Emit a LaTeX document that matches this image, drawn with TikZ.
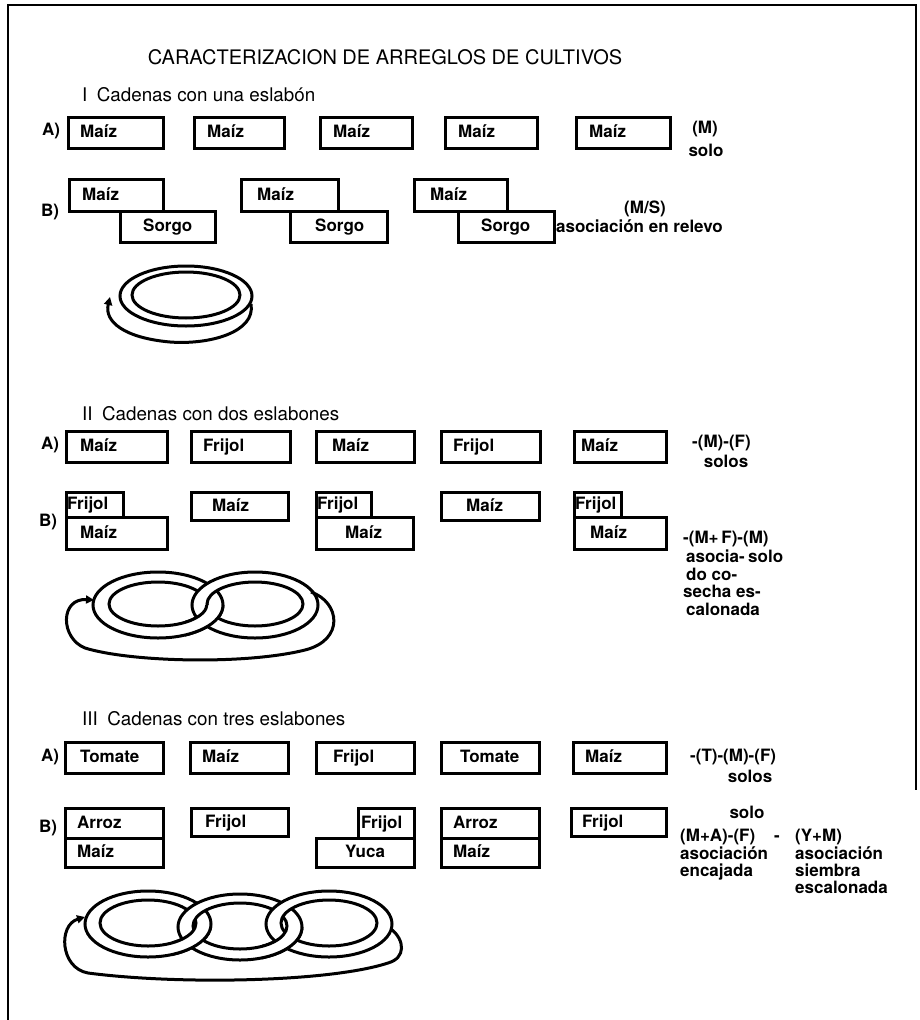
\documentclass[tikz,border=0pt]{standalone}
\usepackage{fontspec}
\setmainfont{TeX Gyre Heros}
\usetikzlibrary{arrows.meta}
\newcommand\chainring[7]{%
  \filldraw[ringline, fill=white, even odd rule] (#1,#2) ellipse [x radius=#3, y radius=#4] (#1,#2+#7) ellipse [x radius=#5, y radius=#6];}
\begin{document}
\begin{tikzpicture}[x=1pt,y=-1pt,
  box/.style={draw, line width=3pt, fill=white, anchor=north west, minimum height=31pt, inner sep=0pt},
  lbl/.style={font=\fontsize{17}{20}\selectfont\bfseries, inner sep=0pt, text height=12.5pt, text depth=3.5pt},
  ann/.style={font=\fontsize{17}{20}\selectfont\bfseries, inner sep=0pt, text height=12.5pt, text depth=3.5pt},
  head/.style={font=\fontsize{18.8}{22}\selectfont, anchor=west, inner sep=0pt},
  ringline/.style={line width=3pt},
  loopline/.style={line width=3pt, -{Triangle[length=8pt,width=8pt]}}]
\useasboundingbox (0,0) rectangle (919,1020);
% frame
\draw[line width=2.2pt] (8,1020) -- (8,5) -- (916,5) -- (916,110);
\draw[line width=1.2pt] (916,110) -- (916,790);
% title
\node[font=\fontsize{20}{24}\selectfont, inner sep=0pt] (title) at (385,57) {CARACTERIZACION DE ARREGLOS DE CULTIVOS};
% ---------- Section I
\node[head] (h1) at (82,95) {I\enspace Cadenas con una eslabón};
\node[lbl] (IA) at (51,131) {A)};
\node[box, minimum width=95pt, label={[lbl,anchor=west,xshift=13pt]west:Maíz}] (ia1) at (67,116) {};
\node[box, minimum width=90pt, label={[lbl,anchor=west,xshift=14pt]west:Maíz}] (ia2) at (193,116) {};
\node[box, minimum width=92pt, label={[lbl,anchor=west,xshift=14pt]west:Maíz}] (ia3) at (319,116) {};
\node[box, minimum width=92pt, label={[lbl,anchor=west,xshift=14pt]west:Maíz}] (ia4) at (444,116) {};
\node[box, minimum width=94pt, label={[lbl,anchor=west,xshift=14pt]west:Maíz}] (ia5) at (575,116) {};
\node[ann] (iat1) at (705,129) {(M)};
\node[ann] (iat2) at (706,152) {solo};
\node[lbl] (IB) at (50,212) {B)};
\node[box, minimum width=94pt, minimum height=32pt, label={[lbl,anchor=west,xshift=14pt]west:Maíz}] (ib1m) at (68,178) {};
\node[box, minimum width=95pt, label={[lbl,anchor=west,xshift=24pt]west:Sorgo}] (ib1s) at (119,210) {};
\node[box, minimum width=97pt, minimum height=32pt, label={[lbl,anchor=west,xshift=17pt]west:Maíz}] (ib2m) at (240,178) {};
\node[box, minimum width=97pt, label={[lbl,anchor=west,xshift=26pt]west:Sorgo}] (ib2s) at (289,210) {};
\node[box, minimum width=93pt, minimum height=32pt, label={[lbl,anchor=west,xshift=17pt]west:\.{M}aíz}] (ib3m) at (413,178) {};
\node[box, minimum width=96pt, label={[lbl,anchor=west,xshift=24pt]west:Sorgo}] (ib3s) at (457,210) {};
\node[ann] (ibt1) at (645,209) {(M/S)};
\node[ann, anchor=west] (ibt2) at (556,228) {asociación en relevo};
% ring I
\chainring{186}{296}{66}{30}{54}{23}{-1}
\coordinate (l1s) at (251,304);
\coordinate (l1e) at (110,297);
\draw[loopline] (l1s) .. controls (256,332) and (210,345) .. (170,342) .. controls (125,338) and (104,322) .. (l1e);
% ---------- Section II
\node[head] (h2) at (82,414) {II\enspace Cadenas con dos eslabones};
\node[lbl] (IIA) at (50,445) {A)};
\node[box, minimum width=101pt, label={[lbl,anchor=west,xshift=15pt]west:Maíz}] (iia1) at (65,430) {};
\node[box, minimum width=99pt, label={[lbl,anchor=west,xshift=13pt]west:Frijol}] (iia2) at (190,430) {};
\node[box, minimum width=98pt, label={[lbl,anchor=west,xshift=17pt]west:Maíz}] (iia3) at (315,430) {};
\node[box, minimum width=99pt, label={[lbl,anchor=west,xshift=13pt]west:Frijol}] (iia4) at (440,430) {};
\node[box, minimum width=92pt, label={[lbl,anchor=west,xshift=8pt]west:Maíz}] (iia5) at (573,430) {};
\node[ann, anchor=west] (iiat1) at (692,443) {-(M)-(F)};
\node[ann] (iiat2) at (726,463) {solos};
\node[lbl] (IIB) at (48,522) {B)};
\node[box, minimum width=101pt, minimum height=32pt, label={[lbl,anchor=west,xshift=15pt]west:Maíz}] (iib1m) at (65,516) {};
\node[box, minimum width=57pt, minimum height=25pt, label={[lbl,anchor=west,xshift=2pt]west:Frijol}] (iib1f) at (65,491) {};
\node[box, minimum width=97pt, minimum height=28pt, label={[lbl,anchor=west,xshift=22pt]west:Maíz}] (iib2) at (190,491) {};
\node[box, minimum width=97pt, minimum height=32pt, label={[lbl,anchor=west,xshift=30pt]west:Maíz}] (iib3m) at (315,516) {};
\node[box, minimum width=55pt, minimum height=25pt, label={[lbl,anchor=west,xshift=2pt]west:Frijol}] (iib3f) at (315,491) {};
\node[box, minimum width=98pt, minimum height=28pt, label={[lbl,anchor=west,xshift=26pt]west:Maíz}] (iib4) at (440,491) {};
\node[box, minimum width=92pt, minimum height=32pt, label={[lbl,anchor=west,xshift=17pt]west:Maíz}] (iib5m) at (573,516) {};
\node[box, minimum width=47pt, minimum height=25pt, label={[lbl,anchor=west,xshift=2pt]west:Frijol}] (iib5f) at (573,491) {};
\node[ann, anchor=west] (iibt1) at (683,539) {-(M+\,F)-(M)};
\node[ann, anchor=west] (iibt2) at (686,558) {asocia-};
\node[ann, anchor=west] (iibt3) at (748,558) {solo};
\node[ann, anchor=west] (iibt4) at (686,576) {do co-};
\node[ann, anchor=west] (iibt5) at (683,593) {secha es-};
\node[ann, anchor=west] (iibt6) at (686,611) {calonada};
% rings II
\chainring{158}{605}{65}{33}{49}{22}{-1}
\chainring{255}{605}{63}{33}{48}{22}{-1}
\begin{scope}
  \clip (185,605) rectangle (235,645);
  \chainring{158}{605}{65}{33}{49}{22}{-1}
\end{scope}
\coordinate (l2s) at (311,592);
\coordinate (l2e) at (94,600);
\draw[loopline] (l2s) .. controls (340,602) and (345,640) .. (305,650) .. controls (245,665) and (130,662) .. (85,648) .. controls (60,638) and (60,598) .. (l2e);
% ---------- Section III
\node[head] (h3) at (82,719) {III\enspace Cadenas con tres eslabones};
\node[lbl] (IIIA) at (50,757) {A)};
\node[box, minimum width=98pt, minimum height=31pt, label={[lbl,anchor=west,xshift=16pt]west:Tomate}] (iiia1) at (64,741) {};
\node[box, minimum width=98pt, minimum height=31pt, label={[lbl,anchor=west,xshift=13pt]west:Maíz}] (iiia2) at (189,741) {};
\node[box, minimum width=98pt, minimum height=31pt, label={[lbl,anchor=west,xshift=18pt]west:Frijol}] (iiia3) at (315,741) {};
\node[box, minimum width=98pt, minimum height=31pt, label={[lbl,anchor=west,xshift=20pt]west:Tomate}] (iiia4) at (440,741) {};
\node[box, minimum width=93pt, minimum height=31pt, label={[lbl,anchor=west,xshift=13pt]west:Maíz}] (iiia5) at (572,741) {};
\node[ann, anchor=west] (iiiat1) at (690,757) {-(T)-(M)-(F)};
\node[ann] (iiiat2) at (750,778) {solos};
\node[lbl] (IIIB) at (48,828) {B)};
\node[box, minimum width=98pt, minimum height=30pt, label={[lbl,anchor=west,xshift=13pt]west:Arroz}] (iiib1a) at (64,807) {};
\node[box, minimum width=98pt, minimum height=29pt, label={[lbl,anchor=west,xshift=13pt]west:Maíz}] (iiib1m) at (64,837) {};
\node[box, minimum width=97pt, minimum height=28pt, label={[lbl,anchor=west,xshift=15pt]west:Frijol}] (iiib2) at (190,807) {};
\node[box, minimum width=56pt, minimum height=30pt, label={[lbl,anchor=west,xshift=4pt]west:Frijol}] (iiib3f) at (357,807) {};
\node[box, minimum width=98pt, minimum height=29pt, label={[lbl,anchor=west,xshift=30pt]west:Yuca}] (iiib3y) at (315,837) {};
\node[box, minimum width=98pt, minimum height=30pt, label={[lbl,anchor=west,xshift=13pt]west:Arroz}] (iiib4a) at (440,807) {};
\node[box, minimum width=98pt, minimum height=29pt, label={[lbl,anchor=west,xshift=13pt]west:Maíz}] (iiib4m) at (440,837) {};
\node[box, minimum width=95pt, minimum height=28pt, label={[lbl,anchor=west,xshift=12pt]west:Frijol}] (iiib5) at (570,807) {};
\node[ann] (iiibt1) at (747,814) {solo};
\node[ann, anchor=west] (iiibt2) at (680,837) {(M+A)-(F)};
\node[ann] (iiibt3) at (777,837) {-};
\node[ann, anchor=west] (iiibt4) at (795,837) {(Y+M)};
\node[ann, anchor=west] (iiibt5) at (680,855) {asociación};
\node[ann, anchor=west] (iiibt6) at (795,855) {asociación};
\node[ann, anchor=west] (iiibt7) at (680,872) {encajada};
\node[ann, anchor=west] (iiibt8) at (795,872) {siembra};
\node[ann, anchor=west] (iiibt9) at (795,889) {escalonada};
% rings III
\chainring{148}{924}{63}{33}{48}{23}{-1}
\chainring{240}{927}{62}{33}{47}{23}{-1}
\chainring{329}{924}{63}{33}{48}{23}{-1}
\begin{scope}
  \clip (172,927) rectangle (215,965);
  \chainring{148}{924}{63}{33}{48}{23}{-1}
\end{scope}
\begin{scope}
  \clip (262,927) rectangle (305,965);
  \chainring{240}{927}{62}{33}{47}{23}{-1}
\end{scope}
\coordinate (l3s) at (391,929);
\coordinate (l3e) at (85,917);
\draw[loopline] (l3s) .. controls (405,940) and (406,958) .. (388,963) .. controls (330,982) and (180,985) .. (88,973) .. controls (60,968) and (58,925) .. (l3e);
\end{tikzpicture}
\end{document}
